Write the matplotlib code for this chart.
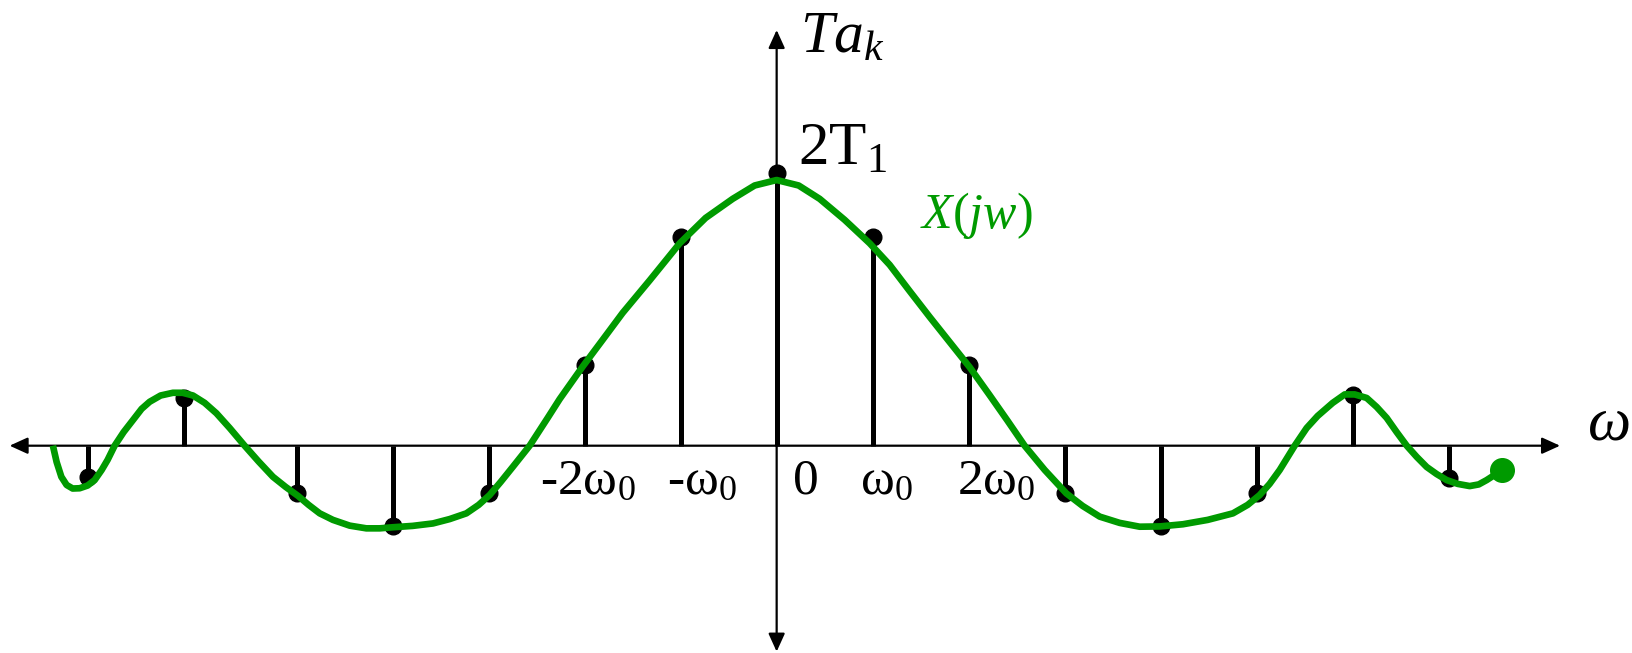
"""Line spectrum T*a_k of a periodic square wave with its envelope X(jw)."""
import matplotlib
matplotlib.use("Agg")
import matplotlib.pyplot as plt

plt.rcParams["font.family"] = ["Liberation Serif", "DejaVu Serif"]
plt.rcParams["mathtext.fontset"] = "custom"
plt.rcParams["mathtext.rm"] = "Liberation Serif"
plt.rcParams["mathtext.it"] = "Liberation Serif:italic"

GREEN = "#009a00"

# harmonic positions (in units of w0) and scaled coefficients T*a_k (2T1 = 1)
k_pos = [-7.17, -6.17, -5, -4, -3, -2, -1, 0, 1, 2, 3, 4, 5, 6, 7]
t_ak = [-0.114, 0.175, -0.173, -0.293, -0.172, 0.296, 0.766, 1.0,
        0.766, 0.296, -0.173, -0.293, -0.173, 0.186, -0.120]

# envelope X(jw), traced by hand
env_w = [-7.539, -7.500, -7.451, -7.396, -7.333, -7.260, -7.177, -7.104, -7.031, -6.969,
         -6.896, -6.802, -6.705, -6.615, -6.531, -6.417, -6.289, -6.188, -6.080, -5.958,
         -5.836, -5.698, -5.542, -5.396, -5.247, -5.115, -4.986, -4.875, -4.760, -4.622,
         -4.448, -4.274, -4.135, -3.997, -3.792, -3.580, -3.406, -3.232, -3.104, -2.990,
         -2.875, -2.747, -2.573, -2.385, -2.260, -2.021, -1.813, -1.604, -1.323,
         -1.010, -0.740, -0.458, -0.229, 0.0, 0.229, 0.448, 0.708, 0.969, 1.177,
         1.385, 1.594, 1.802, 2.010, 2.219, 2.406, 2.583, 2.792, 3.018,
         3.188, 3.365, 3.573, 3.781, 3.990, 4.232, 4.490, 4.753, 4.906, 5.031,
         5.135, 5.240, 5.396, 5.521, 5.635, 5.792, 5.917, 6.021, 6.146, 6.250,
         6.354, 6.458, 6.563, 6.667, 6.771, 6.875, 6.979, 7.094, 7.219, 7.313,
         7.396, 7.479, 7.552]
env_x = [0.0, -0.060, -0.114, -0.144, -0.157, -0.156, -0.146, -0.126, -0.089, -0.052,
         0.0, 0.050, 0.094, 0.135, 0.161, 0.184, 0.194, 0.194, 0.184, 0.157,
         0.119, 0.065, 0.0, -0.058, -0.114, -0.151, -0.184, -0.217, -0.248, -0.272,
         -0.293, -0.303, -0.303, -0.299, -0.294, -0.285, -0.269, -0.248, -0.217, -0.181,
         -0.133, -0.077, 0.0, 0.102, 0.171, 0.290, 0.388, 0.487, 0.606,
         0.742, 0.835, 0.905, 0.954, 0.974, 0.954, 0.905, 0.828, 0.742, 0.663,
         0.567, 0.472, 0.380, 0.288, 0.185, 0.091, 0.0, -0.089, -0.175,
         -0.221, -0.260, -0.283, -0.297, -0.296, -0.288, -0.272, -0.248, -0.217, -0.181,
         -0.140, -0.089, 0.0, 0.065, 0.109, 0.157, 0.188, 0.188, 0.175, 0.142,
         0.102, 0.050, 0.0, -0.041, -0.078, -0.104, -0.126, -0.140, -0.148, -0.142,
         -0.126, -0.107, -0.089]

tick_text = ["-$\\mathrm{2\\omega_0}$", "-$\\mathrm{\\omega_0}$", "0",
             "$\\mathrm{\\omega_0}$", "$\\mathrm{2\\omega_0}$"]
tick_x = [-1.97, -0.78, 0.30, 1.14, 2.29]

fig = plt.figure(figsize=(16.33, 6.53), dpi=100)
ax = fig.add_axes([0, 0, 1, 1])
ax.set_xlim(-8.09, 8.92)
ax.set_ylim(-0.76, 1.634)
ax.axis("off")

# coordinate axes with arrow heads
arrow = dict(arrowstyle="<|-|>,head_length=1.1,head_width=0.5", lw=1.6,
             color="black", shrinkA=0, shrinkB=0, mutation_scale=10)
ax.annotate("", xy=(-7.99, 0), xytext=(8.16, 0), arrowprops=arrow)
ax.annotate("", xy=(0, 1.524), xytext=(0, -0.755), arrowprops=arrow)

# spectral lines
ax.vlines(k_pos, 0, t_ak, color="black", lw=3.6, zorder=3)
ax.plot(k_pos, t_ak, "o", color="black", ms=12, zorder=4)

# envelope
ax.plot(env_w, env_x, color=GREEN, lw=4.8, solid_capstyle="butt",
        solid_joinstyle="round", zorder=5)
ax.plot(env_w[-1], env_x[-1], "o", color=GREEN, ms=17, zorder=5)

for lab, x in zip(tick_text, tick_x):
    ax.text(x, -0.176, lab, fontsize=37, ha="center", va="baseline")

ax.text(8.44, 0.021, r"$\omega$", fontsize=44, ha="left", va="baseline")
ax.text(0.24, 1.44, r"$Ta_k$", fontsize=43, ha="left", va="baseline")
ax.text(0.22, 1.029, r"$\mathrm{2T_1}$", fontsize=44, ha="left", va="baseline")
ax.text(1.49, 0.798, r"$X(jw)$", fontsize=36, color=GREEN, ha="left",
        va="baseline")

fig.savefig("out.png", dpi=100)
